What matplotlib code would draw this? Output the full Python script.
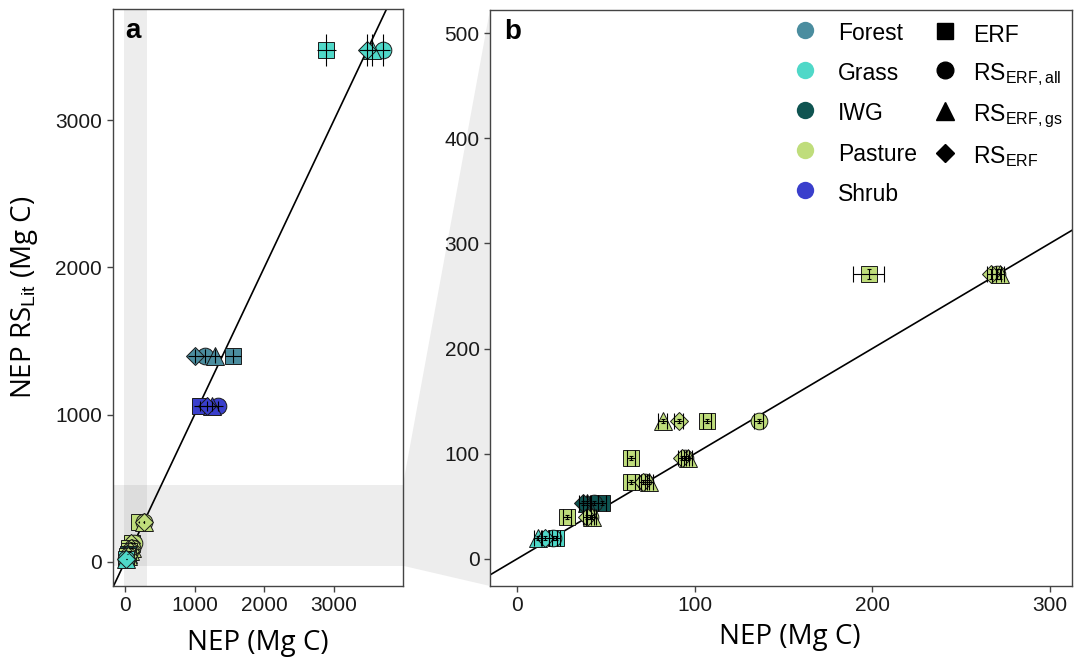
import numpy as np
import matplotlib
matplotlib.use("Agg")
import matplotlib.pyplot as plt
from matplotlib.lines import Line2D
from matplotlib.patches import Polygon

plt.rcParams['font.family'] = ['Liberation Sans', 'DejaVu Sans']
plt.rcParams['mathtext.fontset'] = 'custom'
plt.rcParams['mathtext.rm'] = 'Liberation Sans'
plt.rcParams['mathtext.it'] = 'Liberation Sans:italic'

# ecosystem colours
ecosystems = ['Forest', 'Grass', 'IWG', 'Pasture', 'Shrub']
eco_colors = ['#4b8d9f', '#4fd8c8', '#0f5451', '#bfdd7b', '#3a3fcc']

methods = ['ERF', 'RS_all', 'RS_gs', 'RS']
method_markers = {'ERF': 's', 'RS_all': 'o', 'RS_gs': '^', 'RS': 'D'}
method_sizes = {'ERF': 11, 'RS_all': 12, 'RS_gs': 13, 'RS': 9.5}
method_labels = ['ERF', r'RS$_{\mathrm{ERF,all}}$', r'RS$_{\mathrm{ERF,gs}}$', r'RS$_{\mathrm{ERF}}$']

# one row per site x method
eco = (['Grass'] * 4 + ['Forest'] * 4 + ['Shrub'] * 4 + ['Pasture'] * 4 +
       ['Pasture'] * 4 + ['Pasture'] * 4 + ['Pasture'] * 4 + ['IWG'] * 4 +
       ['Pasture'] * 4 + ['Grass'] * 4)
method = methods * 10
nep = [2890, 3700, 3540, 3470,
       1553, 1148, 1291, 1004,
       1076, 1334, 1248, 1176,
       198, 270, 272, 267,
       107, 136, 82, 91,
       64, 94.5, 96.5, 93,
       64, 72, 74.5, 71,
       47.7, 43.4, 39.6, 37,
       28, 41, 42, 39.6,
       22, 20.5, 12, 15.8]
nep_err = [135, 110, 110, 110,
           115, 100, 100, 100,
           85, 80, 80, 80,
           8.6, 2.5, 2.5, 2.5,
           2.5, 2.5, 2.5, 2.5,
           2.3, 2.3, 2.3, 2.3,
           2.3, 2.3, 2.3, 2.3,
           2.3, 2.3, 2.3, 2.3,
           2.3, 2.3, 2.3, 2.3,
           2.3, 2.3, 2.3, 2.3]
nep_lit = [3476] * 4 + [1398] * 4 + [1059] * 4 + [271] * 4 + [131] * 4 + \
          [96] * 4 + [73] * 4 + [53] * 4 + [40] * 4 + [20] * 4
nep_lit_err = [110] * 4 + [45] * 4 + [34] * 4 + [5] * 4 + [2] * 4 + \
              [2] * 4 + [2] * 4 + [2] * 4 + [2] * 4 + [2] * 4

xlim_a, ylim_a = (-176, 3988), (-163, 3754)
xlim_b, ylim_b = (-15.2, 312.5), (-25.7, 522)

fig = plt.figure(figsize=(10.79, 6.64), dpi=100)
ax_a = fig.add_axes([0.1044, 0.1175, 0.2690, 0.8690])
ax_b = fig.add_axes([0.4541, 0.1175, 0.5394, 0.8675])

color_of = dict(zip(ecosystems, eco_colors))


def draw(ax, capsize):
    ax.axline((0, 0), slope=1, color='black', lw=1.2, zorder=2)
    for i in range(len(nep)):
        m = method[i]
        ax.plot(nep[i], nep_lit[i], marker=method_markers[m], ms=method_sizes[m],
                mfc=color_of[eco[i]], mec='#1a1a1a', mew=0.7, ls='', zorder=3)
    ax.errorbar(nep, nep_lit, xerr=nep_err, fmt='none', ecolor='black',
                elinewidth=0.8, capsize=capsize, capthick=0.8, zorder=4)
    ax.errorbar(nep, nep_lit, yerr=nep_lit_err, fmt='none', ecolor='black',
                elinewidth=0.8, capsize=capsize * 0.3, capthick=0.8, zorder=4)
    for sp in ax.spines.values():
        sp.set_color('#444444')
        sp.set_linewidth(1.0)
    ax.tick_params(direction='out', length=4, width=1, color='#444444',
                   labelsize=15, labelcolor='#1a1a1a')


draw(ax_a, 0)
draw(ax_b, 6)

# zoom region shown on panel a
ax_a.axvspan(xlim_b[0], xlim_b[1], color='#808080', alpha=0.14, lw=0, zorder=1)
ax_a.axhspan(ylim_b[0], ylim_b[1], color='#808080', alpha=0.14, lw=0, zorder=1)

ax_a.set_xlim(xlim_a)
ax_a.set_ylim(ylim_a)
ax_a.set_xticks([0, 1000, 2000, 3000])
ax_a.set_yticks([0, 1000, 2000, 3000])
ax_b.set_xlim(xlim_b)
ax_b.set_ylim(ylim_b)
ax_b.set_xticks([0, 100, 200, 300])
ax_b.set_yticks([0, 100, 200, 300, 400, 500])

lab_font = dict(family=['Liberation Sans Narrow', 'Open Sans'], fontsize=20)
ax_a.set_xlabel('NEP (Mg C)', **lab_font, labelpad=10)
ax_b.set_xlabel('NEP (Mg C)', **lab_font, labelpad=10)
ax_b.xaxis.set_label_coords(0.515, -0.065)
ax_a.set_ylabel(r'NEP RS$_{\mathrm{Lit}}$ (Mg C)', **lab_font)
ax_a.yaxis.set_label_coords(-0.25, 0.5)

ax_a.text(0.045, 0.985, 'a', transform=ax_a.transAxes, fontsize=20,
          fontweight='bold', va='top', ha='left')
ax_b.text(0.025, 0.985, 'b', transform=ax_b.transAxes, fontsize=20,
          fontweight='bold', va='top', ha='left')

# connector between the zoom box and panel b
fig.canvas.draw()
to_fig = fig.transFigure.inverted()
p1 = to_fig.transform(ax_a.transData.transform((xlim_a[1], ylim_b[1])))
p2 = to_fig.transform(ax_b.transAxes.transform((0, 1)))
p3 = to_fig.transform(ax_b.transAxes.transform((0, 0)))
p4 = to_fig.transform(ax_a.transData.transform((xlim_a[1], ylim_b[0])))
fig.patches.append(Polygon([p1, p2, p3, p4], closed=True, transform=fig.transFigure,
                           facecolor='#ededed', edgecolor='none', zorder=-1))

# legends
eco_handles = [Line2D([], [], marker='o', ls='', ms=12.5, mfc=c, mec='none') for c in eco_colors]
leg1 = ax_b.legend(eco_handles, ecosystems, loc='upper left', bbox_to_anchor=(0.507, 1.0),
                   frameon=False, fontsize=16.5, handlelength=0.9, handleheight=1.4,
                   handletextpad=1.0, labelspacing=0.6, borderaxespad=0.0)
ax_b.add_artist(leg1)
m_handles = [Line2D([], [], marker=method_markers[m], ls='', ms=method_sizes[m] * 1.0,
                    mfc='black', mec='black') for m in methods]
ax_b.legend(m_handles, method_labels, loc='upper left', bbox_to_anchor=(0.749, 0.997),
            frameon=False, fontsize=16.5, handlelength=0.9, handleheight=1.4,
            handletextpad=0.75, labelspacing=0.53, borderaxespad=0.0)

fig.savefig('out.png', dpi=100)
